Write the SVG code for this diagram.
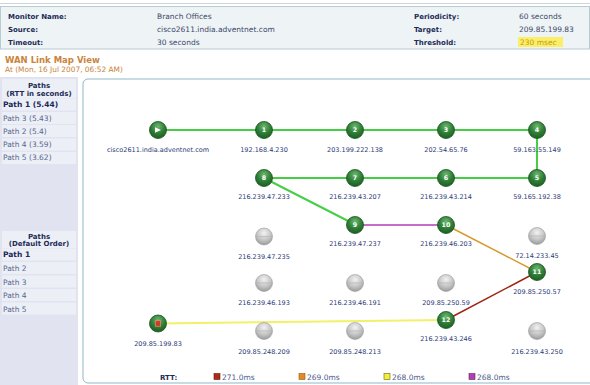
<svg xmlns="http://www.w3.org/2000/svg" width="590" height="385" viewBox="0 0 590 385">
<defs>
<radialGradient id="gG" cx="50%" cy="30%" r="70%">
<stop offset="0" stop-color="#6fb872"/>
<stop offset="0.55" stop-color="#2f7f37"/>
<stop offset="1" stop-color="#1d5e24"/>
</radialGradient>
<radialGradient id="gY" cx="50%" cy="30%" r="70%">
<stop offset="0" stop-color="#f2f2f2"/>
<stop offset="0.6" stop-color="#c4c4c4"/>
<stop offset="1" stop-color="#9a9a9a"/>
</radialGradient>
<style>
text{font-family:"DejaVu Sans","Verdana",sans-serif}
.hl{font-size:7px;font-weight:bold;fill:#1c2c55}
.hv{font-size:7.5px;fill:#3a4868}
.lbl{font-size:6.5px;fill:#2c3a78;text-anchor:middle}
.num{font-size:6.3px;font-weight:bold;fill:#fff;text-anchor:middle}
.gn{fill:url(#gG);stroke:#1b5220;stroke-width:0.8}
.gy{fill:url(#gY);stroke:#9a9a9a;stroke-width:0.6}
.ph{font-size:7px;font-weight:bold;fill:#1c2c55;text-anchor:middle}
.p1{font-size:7.5px;font-weight:bold;fill:#1a2858}
.pn{font-size:7.5px;fill:#56668c}
.row{fill:#edeff7}
.leg{font-size:7.5px;fill:#4a5a8c}
.g{stroke:#46cf46;stroke-width:2;fill:none}
</style>
</defs>
<rect width="590" height="385" fill="#ffffff"/>
<!-- header -->
<g id="header">
<line x1="0" y1="3.5" x2="590" y2="3.5" stroke="#c9d6dc" stroke-width="1"/>
<rect x="0.5" y="6.5" width="589" height="42.5" fill="#eef3f6" stroke="#b8cad2" stroke-width="1"/>
<text class="hl" x="8" y="18.5">Monitor Name:</text>
<text class="hl" x="8" y="31.5">Source:</text>
<text class="hl" x="8" y="44.5">Timeout:</text>
<text class="hv" x="157" y="19">Branch Offices</text>
<text class="hv" x="157" y="32">cisco2611.india.adventnet.com</text>
<text class="hv" x="157" y="45">30 seconds</text>
<text class="hl" x="414" y="18.5">Periodicity:</text>
<text class="hl" x="414" y="31.5">Target:</text>
<text class="hl" x="414" y="44.5">Threshold:</text>
<text class="hv" x="519" y="19">60 seconds</text>
<text class="hv" x="519" y="32">209.85.199.83</text>
<rect x="518" y="37" width="45" height="10" fill="#fbef6a"/>
<text class="hv" x="520" y="45" style="fill:#c99a10">230 msec</text>
<text x="5" y="63" style="font-size:8.5px;font-weight:bold;fill:#c9843a">WAN Link Map View</text>
<text x="5" y="72" style="font-size:7.4px;fill:#c9843a">At (Mon, 16 Jul 2007, 06:52 AM)</text>
</g>
<!-- left panel -->
<g id="paths-panel">
<rect x="0" y="77" width="78" height="308" fill="#e1e4f0"/>
<rect class="row" x="2" y="79" width="74" height="19"/>
<rect class="row" x="2" y="98.5" width="74" height="12"/>
<rect class="row" x="2" y="112" width="74" height="12"/>
<rect class="row" x="2" y="125" width="74" height="12"/>
<rect class="row" x="2" y="138.5" width="74" height="12"/>
<rect class="row" x="2" y="152" width="74" height="12"/>
<text class="ph" x="39" y="87.5">Paths</text>
<text class="ph" x="39" y="95.5">(RTT in seconds)</text>
<text class="p1" x="3" y="107">Path 1 (5.44)</text>
<text class="pn" x="3" y="120.5">Path 3 (5.43)</text>
<text class="pn" x="3" y="133.5">Path 2 (5.4)</text>
<text class="pn" x="3" y="147">Path 4 (3.59)</text>
<text class="pn" x="3" y="160">Path 5 (3.62)</text>
<rect class="row" x="2" y="231" width="74" height="17"/>
<rect class="row" x="2" y="248.5" width="74" height="12"/>
<rect class="row" x="2" y="262" width="74" height="12"/>
<rect class="row" x="2" y="275.5" width="74" height="12"/>
<rect class="row" x="2" y="289" width="74" height="12"/>
<rect class="row" x="2" y="302.5" width="74" height="12"/>
<text class="ph" x="39" y="238.5">Paths</text>
<text class="ph" x="39" y="246">(Default Order)</text>
<text class="p1" x="3" y="257">Path 1</text>
<text class="pn" x="3" y="271">Path 2</text>
<text class="pn" x="3" y="284.5">Path 3</text>
<text class="pn" x="3" y="298">Path 4</text>
<text class="pn" x="3" y="312">Path 5</text>
</g>
<!-- map panel -->
<rect x="83" y="79" width="512" height="304" rx="5" fill="#ffffff" stroke="#8fb7c6" stroke-width="1"/>
<!-- connectors -->
<g id="connectors">
<polyline class="g" points="158,130 537,130 537,178 264,178 355,224.5"/>
<line x1="355" y1="225" x2="446" y2="225" stroke="#b43cb4" stroke-width="1.5"/>
<line x1="446" y1="225" x2="537" y2="272" stroke="#d69a2e" stroke-width="1.5"/>
<line x1="537" y1="272" x2="446" y2="320" stroke="#9c2410" stroke-width="1.5"/>
<polyline points="446,320 300,321.7 158,323.5" fill="none" stroke="#f3f06a" stroke-width="2"/>
</g>
<!-- nodes -->
<g id="source"><circle class="gn" cx="158" cy="130" r="8.5"/><polygon points="155,127.3 161,130 155,132.7" fill="#fff"/><text class="lbl" x="158" y="151.5">cisco2611.india.adventnet.com</text></g>
<g id="n1"><circle class="gn" cx="264" cy="130" r="8.5"/><text class="num" x="264" y="132.2">1</text><text class="lbl" x="264" y="151.5">192.168.4.230</text></g>
<g id="n2"><circle class="gn" cx="355" cy="130" r="8.5"/><text class="num" x="355" y="132.2">2</text><text class="lbl" x="355" y="151.5">203.199.222.138</text></g>
<g id="n3"><circle class="gn" cx="446" cy="130" r="8.5"/><text class="num" x="446" y="132.2">3</text><text class="lbl" x="446" y="151.5">202.54.65.76</text></g>
<g id="n4"><circle class="gn" cx="537" cy="130" r="8.5"/><text class="num" x="537" y="132.2">4</text><text class="lbl" x="537" y="151.5">59.163.55.149</text></g>
<g id="n8"><circle class="gn" cx="264" cy="178" r="8.5"/><text class="num" x="264" y="180.2">8</text><text class="lbl" x="264" y="199">216.239.47.233</text></g>
<g id="n7"><circle class="gn" cx="355" cy="178" r="8.5"/><text class="num" x="355" y="180.2">7</text><text class="lbl" x="355" y="199">216.239.43.207</text></g>
<g id="n6"><circle class="gn" cx="446" cy="178" r="8.5"/><text class="num" x="446" y="180.2">6</text><text class="lbl" x="446" y="199">216.239.43.214</text></g>
<g id="n5"><circle class="gn" cx="537" cy="178" r="8.5"/><text class="num" x="537" y="180.2">5</text><text class="lbl" x="537" y="199">59.165.192.38</text></g>
<g id="n9"><circle class="gn" cx="355" cy="225" r="8.5"/><text class="num" x="355" y="227.2">9</text><text class="lbl" x="355" y="245.5">216.239.47.237</text></g>
<g id="n10"><circle class="gn" cx="446" cy="225" r="8.5"/><text class="num" x="446" y="227.2">10</text><text class="lbl" x="446" y="245.5">216.239.46.203</text></g>
<g id="n11"><circle class="gn" cx="537" cy="272" r="8.5"/><text class="num" x="537" y="274.2">11</text><text class="lbl" x="537" y="293.5">209.85.250.57</text></g>
<g id="n12"><circle class="gn" cx="446" cy="320" r="8.5"/><text class="num" x="446" y="322.2">12</text><text class="lbl" x="446" y="340.5">216.239.43.246</text></g>
<g id="target"><circle class="gn" cx="158" cy="323.5" r="8.5"/><rect x="155.3" y="320.8" width="5.4" height="5.4" fill="#d23a22" stroke="#f09a80" stroke-width="0.6"/><text class="lbl" x="158" y="345.5">209.85.199.83</text></g>
<g id="g1"><circle class="gy" cx="264" cy="236.5" r="8.5"/><line x1="256" y1="236.5" x2="272" y2="236.5" stroke="#b0b0b0" stroke-width="0.6"/><text class="lbl" x="264" y="258.5">216.239.47.235</text></g>
<g id="g2"><circle class="gy" cx="537" cy="236" r="8.5"/><line x1="529" y1="236" x2="545" y2="236" stroke="#b0b0b0" stroke-width="0.6"/><text class="lbl" x="537" y="258">72.14.233.45</text></g>
<g id="g3"><circle class="gy" cx="264" cy="283" r="8.5"/><line x1="256" y1="283" x2="272" y2="283" stroke="#b0b0b0" stroke-width="0.6"/><text class="lbl" x="264" y="304.5">216.239.46.193</text></g>
<g id="g4"><circle class="gy" cx="355" cy="283" r="8.5"/><line x1="347" y1="283" x2="363" y2="283" stroke="#b0b0b0" stroke-width="0.6"/><text class="lbl" x="355" y="304.5">216.239.46.191</text></g>
<g id="g5"><circle class="gy" cx="446" cy="283" r="8.5"/><line x1="438" y1="283" x2="454" y2="283" stroke="#b0b0b0" stroke-width="0.6"/><text class="lbl" x="446" y="304.5">209.85.250.59</text></g>
<g id="g6"><circle class="gy" cx="264" cy="331" r="8.5"/><line x1="256" y1="331" x2="272" y2="331" stroke="#b0b0b0" stroke-width="0.6"/><text class="lbl" x="264" y="353.5">209.85.248.209</text></g>
<g id="g7"><circle class="gy" cx="355" cy="331" r="8.5"/><line x1="347" y1="331" x2="363" y2="331" stroke="#b0b0b0" stroke-width="0.6"/><text class="lbl" x="355" y="353.5">209.85.248.213</text></g>
<g id="g8"><circle class="gy" cx="537" cy="331" r="8.5"/><line x1="529" y1="331" x2="545" y2="331" stroke="#b0b0b0" stroke-width="0.6"/><text class="lbl" x="537" y="353.5">216.239.43.250</text></g>
<!-- legend -->
<g id="legend">
<text class="hl" x="160" y="379.5">RTT:</text>
<rect x="214" y="373.5" width="6" height="6" fill="#b02a1a" stroke="#6a1a10" stroke-width="0.6"/>
<text class="leg" x="222" y="380">271.0ms</text>
<rect x="299" y="373.5" width="6" height="6" fill="#e08a2a" stroke="#9a5a10" stroke-width="0.6"/>
<text class="leg" x="307" y="380">269.0ms</text>
<rect x="384" y="373.5" width="6" height="6" fill="#f5ee3a" stroke="#6a6a10" stroke-width="0.6"/>
<text class="leg" x="392" y="380">268.0ms</text>
<rect x="469" y="373.5" width="6" height="6" fill="#b040b0" stroke="#6a206a" stroke-width="0.6"/>
<text class="leg" x="477" y="380">268.0ms</text>
</g>
</svg>
